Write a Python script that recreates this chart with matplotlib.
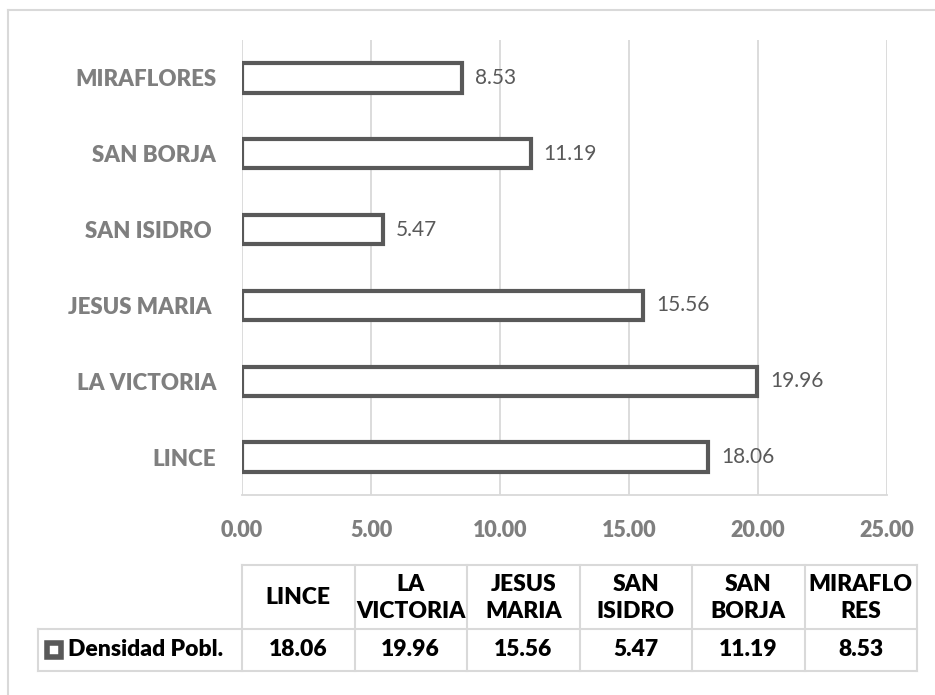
import matplotlib
matplotlib.use('Agg')
import matplotlib.pyplot as plt
from matplotlib.lines import Line2D

plt.rcParams['font.family'] = ['Lato', 'DejaVu Sans']

# data
distritos = ['LINCE', 'LA VICTORIA', 'JESUS MARIA ', 'SAN ISIDRO ', 'SAN BORJA', 'MIRAFLORES']
densidad = [18.06, 19.96, 15.56, 5.47, 11.19, 8.53]
tabla_cab = ['LINCE', 'LA\nVICTORIA', 'JESUS\nMARIA', 'SAN\nISIDRO', 'SAN\nBORJA', 'MIRAFLO\nRES']
serie = 'Densidad Pobl.'
xticks = [0, 5, 10, 15, 20, 25]

W, H = 935, 695
fig = plt.figure(figsize=(W / 100, H / 100), dpi=100)

edge = '#595959'
grid = '#d9d9d9'
gray_txt = '#7f7f7f'
peso = 'heavy'

# main bar chart
ax = fig.add_axes([242 / W, 1 - 495 / H, (887 - 242) / W, (495 - 40) / H])
ypos = list(range(len(distritos)))
ax.barh(ypos, densidad, height=0.385, color='white', edgecolor=edge, linewidth=3.0, zorder=3)
for y, v in zip(ypos, densidad):
    ax.text(v + 0.5, y, f'{v:.2f}', va='center', ha='left', fontsize=15, color=edge)

ax.set_xlim(0, 25)
ax.set_ylim(-0.5, len(distritos) - 0.5)
ax.set_xticks(xticks)
ax.set_xticklabels([f'{t:.2f}' for t in xticks], fontsize=15.5, fontweight=peso, color=gray_txt)
ax.set_yticks(ypos)
ax.set_yticklabels(distritos, fontsize=16, fontweight=peso, color=gray_txt)
ax.tick_params(axis='both', length=0)
ax.tick_params(axis='x', pad=18)
ax.tick_params(axis='y', pad=18.5)
ax.grid(axis='x', color=grid, linewidth=1.3, zorder=0)
for s in ['top', 'right', 'left']:
    ax.spines[s].set_visible(False)
ax.spines['bottom'].set_color(grid)
ax.spines['bottom'].set_linewidth(1.3)

# data table drawn in pixel coordinates
tb = fig.add_axes([0, 0, 1, 1])
tb.set_xlim(0, W)
tb.set_ylim(H, 0)
tb.axis('off')
tb.patch.set_alpha(0)

x0, x1 = 242, 917
cw = (x1 - x0) / len(tabla_cab)
yh0, yh1, yd1 = 565, 629, 671
lx = 38
lw = 1.5
tb.add_line(Line2D([x0, x1], [yh0, yh0], color=grid, lw=lw))
tb.add_line(Line2D([lx, x1], [yh1, yh1], color=grid, lw=lw))
tb.add_line(Line2D([lx, x1], [yd1, yd1], color=grid, lw=lw))
tb.add_line(Line2D([lx, lx], [yh1, yd1], color=grid, lw=lw))
for i in range(len(tabla_cab) + 1):
    xx = x0 + i * cw
    tb.add_line(Line2D([xx, xx], [yh0, yd1], color=grid, lw=lw))

for i, (cab, v) in enumerate(zip(tabla_cab, densidad)):
    cx = x0 + (i + 0.5) * cw
    tb.text(cx, (yh0 + yh1) / 2 + 1, cab, ha='center', va='center', fontsize=16.5,
            fontweight=peso, color='black', linespacing=1.3)
    tb.text(cx, (yh1 + yd1) / 2, f'{v:.2f}', ha='center', va='center', fontsize=16.5,
            fontweight=peso, color='black')

tb.plot([54], [(yh1 + yd1) / 2], marker='s', markersize=9.5, markerfacecolor='white',
        markeredgecolor=edge, markeredgewidth=4.0)
tb.text(68, (yh1 + yd1) / 2, serie, ha='left', va='center', fontsize=16.5,
        fontweight=peso, color='black')

# chart border
tb.add_line(Line2D([8, W], [10, 10], color=grid, lw=1.5))
tb.add_line(Line2D([8, 8], [10, H], color=grid, lw=1.5))

fig.savefig('out.png', dpi=100)
